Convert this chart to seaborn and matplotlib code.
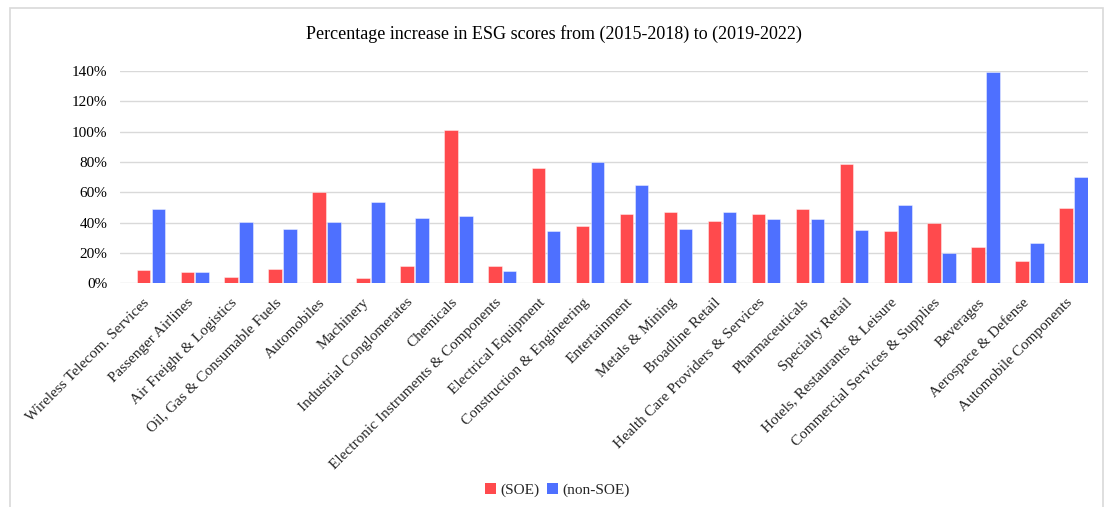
import matplotlib
matplotlib.use("Agg")
import matplotlib.pyplot as plt
import matplotlib.transforms as mtransforms
from matplotlib.patches import Patch, Rectangle
from matplotlib.ticker import FuncFormatter
import pandas as pd
import seaborn as sns

industries = [
    "Wireless Telecom. Services", "Passenger Airlines", "Air Freight & Logistics",
    "Oil, Gas & Consumable Fuels", "Automobiles", "Machinery",
    "Industrial Conglomerates", "Chemicals", "Electronic Instruments & Components",
    "Electrical Equipment", "Construction & Engineering", "Entertainment",
    "Metals & Mining", "Broadline Retail", "Health Care Providers & Services",
    "Pharmaceuticals", "Specialty Retail", "Hotels, Restaurants & Leisure",
    "Commercial Services & Supplies", "Beverages", "Aerospace & Defense",
    "Automobile Components",
]
soe = [8.6, 7.5, 4.0, 9.4, 60.2, 3.3, 11.2, 101.3, 11.6, 75.8, 37.6, 45.9,
       46.8, 40.9, 45.7, 49.0, 78.7, 34.7, 39.8, 24.2, 14.7, 49.4]
non_soe = [49.0, 7.4, 40.2, 35.8, 40.2, 53.6, 43.1, 44.6, 8.1, 34.5, 80.2, 65.0,
           35.8, 46.8, 42.2, 42.2, 35.1, 51.8, 20.2, 139.6, 26.8, 70.1]
groups = ["(SOE)", "(non-SOE)"]
colors = ["#FF4A4D", "#4E70FF"]
yticks = [0, 20, 40, 60, 80, 100, 120, 140]

df = pd.DataFrame({
    "industry": industries * 2,
    "value": soe + non_soe,
    "group": [groups[0]] * len(industries) + [groups[1]] * len(industries),
})

sns.set_theme(style="white")
plt.rcParams["font.family"] = ["Liberation Serif", "DejaVu Serif"]

fig = plt.figure(figsize=(11.04, 5.07), dpi=100)
ax = fig.add_axes([0.1087, 0.4412, 0.8768, 0.4188])

sns.barplot(data=df, x="industry", y="value", hue="group", order=industries,
            hue_order=groups, palette=colors, saturation=1, width=0.68, gap=0.1,
            linewidth=0.6, legend=False, ax=ax)
for patch in ax.patches:
    patch.set_edgecolor((1, 1, 1, 0.5))

ax.set_ylim(0, 140)
ax.set_xlim(-0.70, len(industries) - 1 + 0.33)
ax.set_yticks(yticks)
ax.yaxis.set_major_formatter(FuncFormatter(lambda v, _: f"{v:.0f}%"))
ax.grid(axis="y", color="#D9D9D9", linewidth=1.0)
ax.set_axisbelow(True)
for s in ax.spines.values():
    s.set_visible(False)
ax.set_xlabel("")
ax.set_ylabel("")
ax.tick_params(axis="y", length=0, pad=9, labelsize=11, colors="black")
ax.tick_params(axis="x", length=0, pad=4)
ax.set_xticks(range(len(industries)))
ax.set_xticklabels(industries, rotation=45, ha="right", va="top",
                   rotation_mode="anchor", fontsize=11)
# nudge the slanted category names slightly left and down
shift = mtransforms.ScaledTranslation(-8 / 100, -7 / 100, fig.dpi_scale_trans)
for lbl in ax.get_xticklabels():
    lbl.set_transform(lbl.get_transform() + shift)

fig.text(0.5015, 0.933, "Percentage increase in ESG scores from (2015-2018) to (2019-2022)",
         ha="center", va="center", fontsize=13, color="black")

handles = [Patch(facecolor=c, edgecolor="none") for c in colors]
fig.legend(handles, groups, loc="center", bbox_to_anchor=(0.505, 0.033), ncol=2,
           frameon=False, fontsize=11, handlelength=0.7, handleheight=0.7,
           handletextpad=0.3, columnspacing=0.5)

fig.add_artist(Rectangle((10 / 1104, -0.05), 1093 / 1104, 1.05 - 8 / 507,
                         transform=fig.transFigure, fill=False,
                         edgecolor="#D9D9D9", linewidth=1.2))

fig.savefig("out.png", dpi=100, facecolor="white")
